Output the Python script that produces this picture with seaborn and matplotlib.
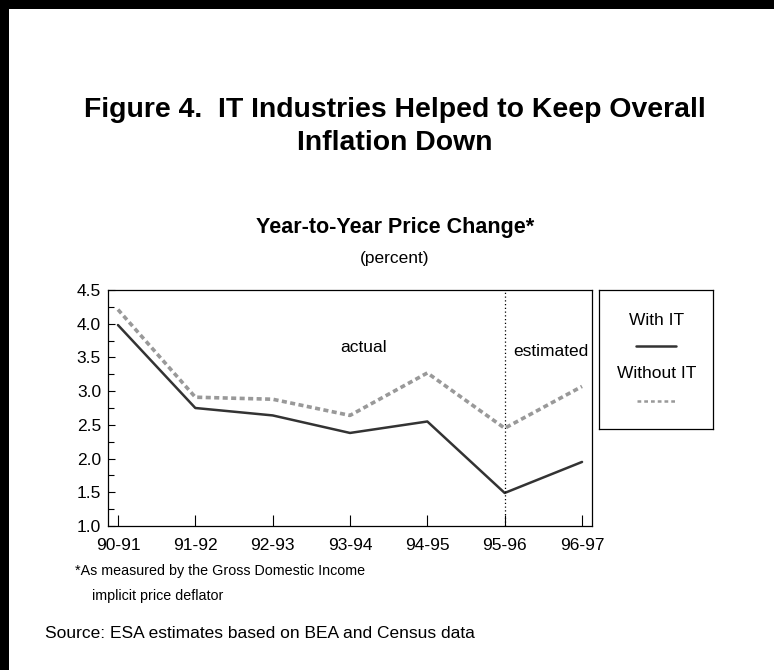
import matplotlib
matplotlib.use("Agg")
import matplotlib.pyplot as plt
from matplotlib.patches import Rectangle
from matplotlib.lines import Line2D
from matplotlib.ticker import MultipleLocator, FormatStrFormatter
import seaborn as sns
import pandas as pd

# ---- data ----
periods = ["90-91", "91-92", "92-93", "93-94", "94-95", "95-96", "96-97"]
with_it = [3.98, 2.75, 2.64, 2.38, 2.55, 1.49, 1.95]
without_it = [4.21, 2.91, 2.88, 2.64, 3.27, 2.45, 3.07]
series_names = ["With IT", "Without IT"]
divider_period = "95-96"

sns.set_style("ticks")
plt.rcParams["font.family"] = ["Liberation Sans", "DejaVu Sans"]
plt.rcParams["text.color"] = "black"
plt.rcParams["axes.labelcolor"] = "black"
plt.rcParams["xtick.color"] = "black"
plt.rcParams["ytick.color"] = "black"
plt.rcParams["axes.edgecolor"] = "black"

W, H = 774, 670
fig = plt.figure(figsize=(W / 100, H / 100), dpi=100)

def fx(px):
    return px / W

def fy(py):
    return 1 - py / H

# outer frame (left and top thick borders)
fig.patches.append(Rectangle((0, fy(9)), 1, 9 / H, transform=fig.transFigure,
                             facecolor="black", edgecolor="none"))
fig.patches.append(Rectangle((0, 0), 9 / W, 1, transform=fig.transFigure,
                             facecolor="black", edgecolor="none"))

ax = fig.add_axes([fx(108), fy(526), fx(592) - fx(108), fy(290) - fy(526)])

df_with = pd.DataFrame({"period": periods, "value": with_it})
df_without = pd.DataFrame({"period": periods, "value": without_it})

sns.lineplot(data=df_without, x="period", y="value", ax=ax, color="#999999",
             linewidth=2.6, sort=False, legend=False)
ax.lines[-1].set_dashes((1.4, 0.95))
sns.lineplot(data=df_with, x="period", y="value", ax=ax, color="#333333",
             linewidth=1.8, sort=False, legend=False)

div_idx = periods.index(divider_period)
ax.axvline(div_idx, color="black", linewidth=0.9, linestyle=(0, (1, 2)))

ax.set_xlim(-0.129, len(periods) - 1 + 0.129)
ax.set_ylim(1.0, 4.5)
ax.yaxis.set_major_locator(MultipleLocator(0.5))
ax.yaxis.set_minor_locator(MultipleLocator(0.25))
ax.yaxis.set_major_formatter(FormatStrFormatter("%.1f"))
ax.set_xticks(range(len(periods)))
ax.set_xticklabels(periods)
ax.set_xlabel("")
ax.set_ylabel("")
for s in ax.spines.values():
    s.set_linewidth(0.9)
    s.set_color("black")
ax.tick_params(axis="y", which="major", direction="in", length=5, width=0.8,
               labelsize=12.5, pad=5, colors="black")
ax.tick_params(axis="y", which="minor", direction="in", length=4, width=0.8,
               colors="black")
ax.tick_params(axis="x", which="major", direction="in", length=8, width=0.8,
               labelsize=12.5, pad=9, colors="black")

ax.text(3.18, 3.58, "actual", fontsize=12.5, ha="center", va="baseline")
ax.text(5.6, 3.52, "estimated", fontsize=12.5, ha="center", va="baseline")

# legend box
lax = fig.add_axes([fx(599), fy(429), fx(713) - fx(599), fy(290) - fy(429)])
lax.set_xticks([])
lax.set_yticks([])
lax.set_xlim(0, 1)
lax.set_ylim(0, 1)
for s in lax.spines.values():
    s.set_linewidth(0.9)
    s.set_color("black")
lax.text(0.509, 0.784, series_names[0], fontsize=12.5, ha="center", va="center")
lax.add_line(Line2D([0.325, 0.675], [0.597, 0.597], color="#333333", linewidth=1.8))
lax.text(0.509, 0.396, series_names[1], fontsize=12.5, ha="center", va="center")
lax.add_line(Line2D([0.335, 0.665], [0.201, 0.201], color="#999999", linewidth=1.8,
                    dashes=(1.5, 1.2)))

# titles
fig.text(0.51, fy(117), "Figure 4.  IT Industries Helped to Keep Overall",
         fontsize=20.4, fontweight="bold", ha="center", va="baseline")
fig.text(0.51, fy(150), "Inflation Down",
         fontsize=20.4, fontweight="bold", ha="center", va="baseline")
fig.text(0.51, fy(233), "Year-to-Year Price Change*",
         fontsize=15.5, fontweight="bold", ha="center", va="baseline")
fig.text(0.51, fy(258), "(percent)", fontsize=12.5, ha="center", va="center")

# footnotes
fig.text(fx(75), fy(575), "*As measured by the Gross Domestic Income",
         fontsize=10.3, ha="left", va="baseline")
fig.text(fx(92), fy(600), "implicit price deflator",
         fontsize=10.3, ha="left", va="baseline")
fig.text(fx(45), fy(633), "Source: ESA estimates based on BEA and Census data",
         fontsize=12.5, ha="left", va="center")

fig.savefig("out.png", dpi=100)
